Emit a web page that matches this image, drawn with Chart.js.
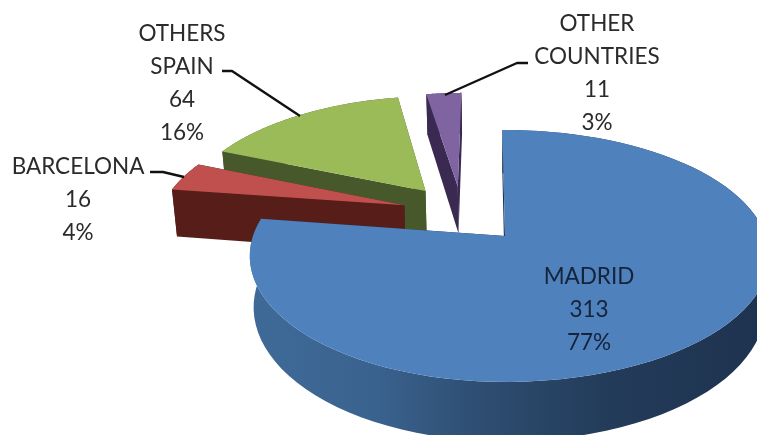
<!DOCTYPE html>
<html>
<head>
<meta charset="utf-8">
<style>
  html, body { margin: 0; background: #ffffff; }
  canvas { display: block; }
</style>
<script src="https://cdn.jsdelivr.net/npm/chart.js@4"></script>
</head>
<body>
<canvas id="pie" width="757" height="435"></canvas>
<script>
const categories = [['MADRID'], ['BARCELONA'], ['OTHERS', 'SPAIN'], ['OTHER', 'COUNTRIES']];
const counts = [313, 16, 64, 11];
const percents = ['77%', '4%', '16%', '3%'];

const topColors = ['#4f81bd', '#c0504d', '#9bbb59', '#8064a2'];
const wallColors = ['#2b4a6c', '#571d19', '#47592a', '#3a2a52'];

// how far each slice was pulled out, in pie radii (u = right, v = towards viewer)
const pullU = [0, -0.416, -0.335, -0.2];
const pullV = [0, -0.26, -0.39, -0.43];
const drawOrder = [3, 2, 1, 0];

// label centre x and first baseline
const labelX = [589, 78, 182, 597];
const labelY = [284, 174, 41, 31];
const labelStep = 33;
const leaders = [
    null,
    [[150, 172], [163, 172], [184, 177]],
    [[222, 71], [232, 71], [300, 116]],
    [[528, 63], [517, 63], [445, 95]]
];

// fake 3D view
const SCALE_X = 252 / 199;
const SCALE_Y = 122.8 / 199;
const PERSP = 0.1586;
const DEPTH = 50;
const SHRINK = 0.015;
const RIGHT_STRETCH = 1.035; // right side runs off the image in the original

function project(arc, u, v, z) {
    const w = 1 / (1 - PERSP * v);
    const r = arc.outerRadius;
    const sx = u > 0 ? SCALE_X * RIGHT_STRETCH : SCALE_X;
    return [
        arc.x + r * sx * u * w * (1 - SHRINK * z),
        arc.y + r * SCALE_Y * v * w + DEPTH * z * w
    ];
}

function tracePoly(ctx, pts) {
    ctx.beginPath();
    pts.forEach((p, i) => i ? ctx.lineTo(p[0], p[1]) : ctx.moveTo(p[0], p[1]));
    ctx.closePath();
}

const pie3d = {
    id: 'pie3d',
    beforeDatasetsDraw(chart) {
        const { ctx } = chart;
        const arcs = chart.getDatasetMeta(0).data;
        ctx.save();
        drawOrder.forEach(i => {
            const arc = arcs[i];
            const du = pullU[i], dv = pullV[i];
            const rim = [];
            const steps = 90;
            for (let s = 0; s <= steps; s++) {
                const a = arc.startAngle + (arc.endAngle - arc.startAngle) * s / steps;
                rim.push([du + Math.cos(a), dv + Math.sin(a)]);
            }
            const first = rim[0], last = rim[steps];
            const at = z => p => project(arc, p[0], p[1], z);

            let wall = wallColors[i];
            if (i === 0) {
                wall = ctx.createLinearGradient(250, 0, 757, 0);
                wall.addColorStop(0, '#3f6a98');
                wall.addColorStop(0.25, '#3a628e');
                wall.addColorStop(0.45, '#2e4e72');
                wall.addColorStop(0.7, '#233c5a');
                wall.addColorStop(1, '#1e3350');
            }
            ctx.fillStyle = wall;
            tracePoly(ctx, rim.map(at(0)).concat(rim.slice().reverse().map(at(1))));
            ctx.fill();

            // the two cut faces
            ctx.fillStyle = i === 0 ? '#1e3350' : wallColors[i];
            [last, first].forEach(p => {
                const apex = [du, dv];
                tracePoly(ctx, [at(0)(apex), at(0)(p), at(1)(p), at(1)(apex)]);
                ctx.fill();
            });

            ctx.fillStyle = topColors[i];
            tracePoly(ctx, [at(0)([du, dv])].concat(rim.map(at(0))));
            ctx.fill();
        });
        ctx.restore();
        return false;
    },
    afterDraw(chart) {
        const { ctx } = chart;
        ctx.save();
        ctx.strokeStyle = '#111111';
        ctx.lineWidth = 2.4;
        ctx.lineJoin = 'round';
        leaders.forEach(line => {
            if (!line) return;
            ctx.beginPath();
            line.forEach((p, i) => i ? ctx.lineTo(p[0], p[1]) : ctx.moveTo(p[0], p[1]));
            ctx.stroke();
        });
        ctx.font = '22.5px Lato, "Noto Sans", sans-serif';
        ctx.textAlign = 'center';
        ctx.textBaseline = 'alphabetic';
        categories.forEach((name, i) => {
            ctx.fillStyle = i === 0 ? '#15243a' : '#2b2b2b';
            name.concat([String(counts[i]), percents[i]]).forEach((line, j) => {
                ctx.fillText(line, labelX[i], labelY[i] + j * labelStep);
            });
        });
        ctx.restore();
    }
};

new Chart(document.getElementById('pie'), {
    type: 'pie',
    data: {
        labels: categories,
        datasets: [{
            data: counts,
            backgroundColor: topColors,
            borderWidth: 0,
            rotation: -0.7
        }]
    },
    options: {
        responsive: false,
        animation: false,
        // puts the pie centre where the Madrid apex sits
        layout: { padding: { left: 253, top: 37 } },
        plugins: { legend: { display: false }, tooltip: { enabled: false } }
    },
    plugins: [pie3d]
});
</script>
</body>
</html>
